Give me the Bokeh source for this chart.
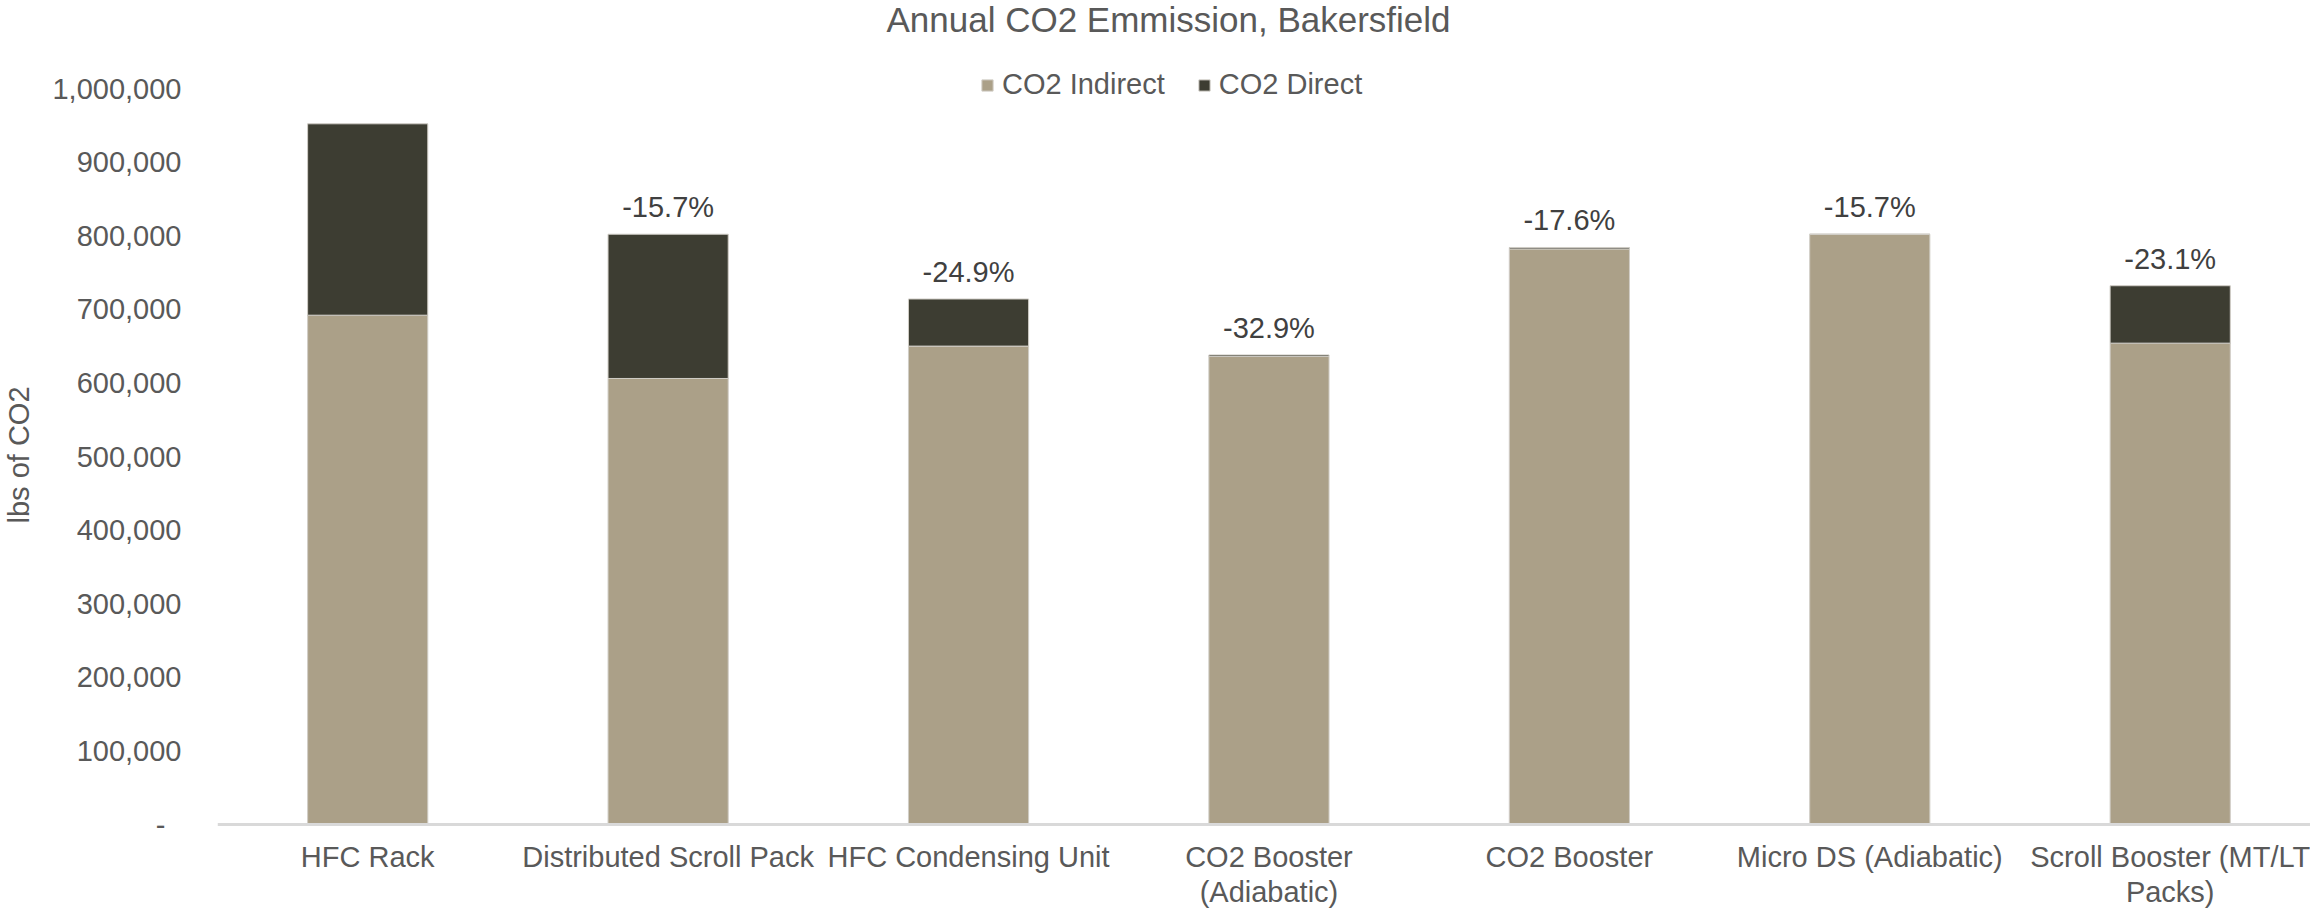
from bokeh.plotting import figure
from bokeh.models import ColumnDataSource, Range1d, FixedTicker, NumeralTickFormatter, Legend, LegendItem, Label, Span
from bokeh.core.properties import value
from bokeh.embed import file_html
from bokeh.resources import INLINE

categories = ["HFC Rack", "Distributed Scroll Pack", "HFC Condensing Unit",
              "CO2 Booster\n(Adiabatic)", "CO2 Booster", "Micro DS (Adiabatic)",
              "Scroll Booster (MT/LT\nPacks)"]
co2_indirect = [692000, 606000, 650000, 636000, 782000, 802000, 654000]
co2_direct = [260000, 196000, 64000, 2000, 2000, 0, 78000]
pct_labels = ["", "-15.7%", "-24.9%", "-32.9%", "-17.6%", "-15.7%", "-23.1%"]
y_ticks = [0, 100000, 200000, 300000, 400000, 500000, 600000, 700000, 800000, 900000, 1000000]

FONT = "Liberation Sans"
TXT = "#595959"
C_IND = "#ABA088"
C_DIR = "#3D3D32"

xs = list(range(len(categories)))
totals = [a + b for a, b in zip(co2_indirect, co2_direct)]
src = ColumnDataSource(dict(x=xs, indirect=co2_indirect, direct=co2_direct,
                            total=totals, pct=pct_labels, zero=[0] * len(xs), cat=categories))

H = 909
PX = 1e6 / 736.0
p = figure(width=2310, height=H, output_backend="svg", toolbar_location=None,
           x_range=Range1d(-0.5, 6.467), y_range=Range1d(-(H - 824) * PX, 824 * PX),
           min_border_left=206, min_border_right=0, min_border_top=0, min_border_bottom=0)
p.outline_line_color = None
p.grid.visible = False
p.background_fill_color = "white"
p.border_fill_color = "white"
p.xaxis.visible = False

rs = p.vbar_stack(["indirect", "direct"], x="x", width=0.4, source=src,
                  color=[C_IND, C_DIR])
for r, c in zip(rs, [C_IND, C_DIR]):
    r.glyph.fill_color = c
    r.glyph.line_color = "#D0CDC6"
    r.glyph.line_width = 1

p.add_layout(Span(location=0, dimension="width", line_color="#D9D9D9", line_width=3))

# category labels under the baseline
p.text(x="x", y="zero", text="cat", source=src, text_align="center",
       text_baseline="top", y_offset=16, text_font=value(FONT), text_line_height=1.1,
       text_font_size="29px", text_color=TXT)

# percent labels above bars
p.text(x="x", y="total", text="pct", source=src, text_align="center",
       text_baseline="alphabetic", y_offset=-27, text_font=value(FONT),
       text_font_size="29px", text_color="#404040")

# y axis
ya = p.yaxis[0]
ya.ticker = FixedTicker(ticks=y_ticks)
ya.formatter = NumeralTickFormatter(format="0,0")
ya.major_label_overrides = {0: "-\u00a0\u00a0"}
ya.axis_line_color = None
ya.major_tick_line_color = None
ya.minor_tick_line_color = None
ya.major_label_standoff = 30
ya.major_label_text_font = FONT
ya.major_label_text_font_size = "29px"
ya.major_label_text_color = TXT
ya.axis_label = "lbs of CO2"
ya.axis_label_text_font = FONT
ya.axis_label_text_font_size = "29px"
ya.axis_label_text_font_style = "normal"
ya.axis_label_text_color = TXT
ya.axis_label_standoff = 14

legend = Legend(items=[LegendItem(label="CO2 Indirect", renderers=[rs[0]]),
                       LegendItem(label="CO2 Direct", renderers=[rs[1]])],
                orientation="horizontal", location=(763, 808), padding=0, margin=0,
                spacing=32, glyph_width=14, glyph_height=14, label_standoff=8,
                label_text_font=FONT, label_text_font_size="29px", label_text_color=TXT,
                border_line_color=None, background_fill_alpha=0)
p.add_layout(legend)

title = Label(x=951, y=890, x_units="screen", y_units="screen", text="Annual CO2 Emmission, Bakersfield",
              text_align="center", text_baseline="middle", text_font=FONT,
              text_font_size="35px", text_color=TXT)
p.add_layout(title)

open("out.html", "w").write(file_html(p, INLINE))
